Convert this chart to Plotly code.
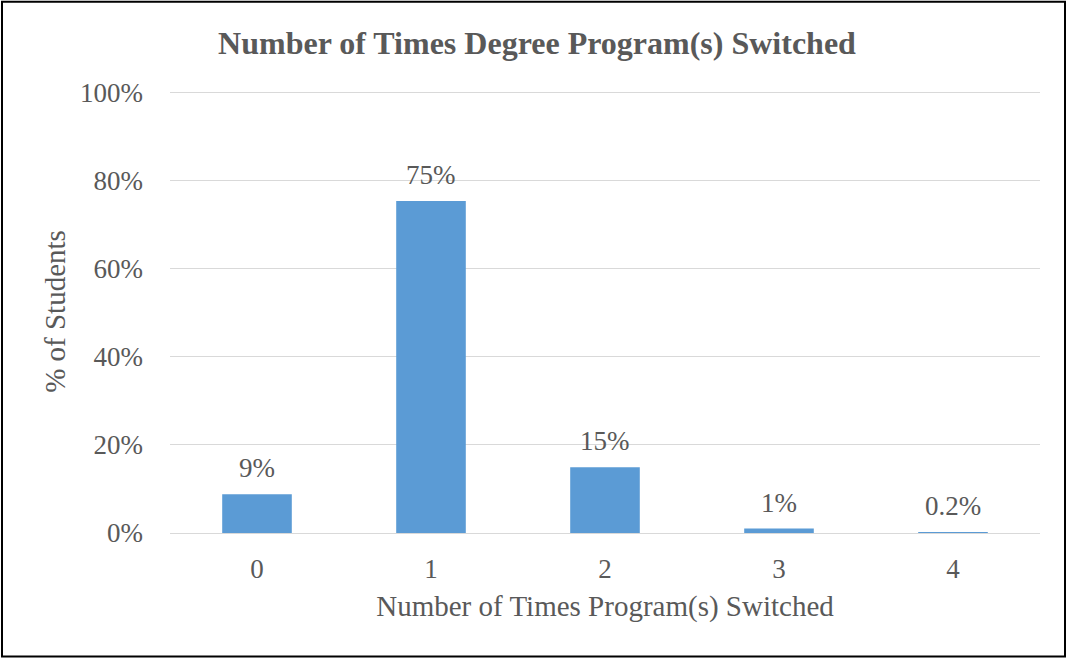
import plotly.graph_objects as go

categories = ["0", "1", "2", "3", "4"]
values = [8.8, 75.3, 14.9, 1.0, 0.2]
labels = ["9%", "75%", "15%", "1%", "0.2%"]
y_ticks = [0, 20, 40, 60, 80, 100]
y_tick_labels = ["0%", "20%", "40%", "60%", "80%", "100%"]

FONT = "Liberation Serif, Times New Roman, serif"
GREY = "#595959"

fig = go.Figure(go.Bar(
    x=categories, y=values,
    marker=dict(color="#5B9BD5", line=dict(width=0)),
    width=0.4, cliponaxis=False,
))
for c, v, t in zip(categories, values, labels):
    fig.add_annotation(x=c, y=v, text=t, showarrow=False, yanchor="bottom", yshift=9,
                       font=dict(family=FONT, size=27, color=GREY))

top_px, bot_px = 92.5, 533.5
ymax = 100.5
plot_h = (bot_px - top_px) * ymax / 100
fig.update_layout(
    width=1070, height=660,
    margin=dict(l=170, r=30, t=bot_px - plot_h, b=660 - bot_px, pad=0),
    paper_bgcolor="white", plot_bgcolor="white",
    showlegend=False,
    title=dict(text="<b>Number of Times Degree Program(s) Switched</b>",
               x=(537 - 170) / 870, xref="paper", xanchor="center",
               y=1 - 43 / 660, yanchor="middle",
               font=dict(family=FONT, size=32, color=GREY)),
    font=dict(family=FONT, color=GREY),
)
fig.update_xaxes(
    type="category", showgrid=False, showline=True, linecolor="#d9d9d9", linewidth=1,
    ticks="", tickfont=dict(family=FONT, size=27, color=GREY), ticklabelstandoff=12,
    title=dict(text="Number of Times Program(s) Switched",
               font=dict(family=FONT, size=29, color=GREY), standoff=12),
)
fig.update_yaxes(
    range=[0, ymax], tickvals=y_ticks, ticktext=y_tick_labels,
    showgrid=True, gridcolor="#d9d9d9", gridwidth=1, zeroline=False,
    ticks="", tickfont=dict(family=FONT, size=27, color=GREY), ticklabelstandoff=26,
    title=dict(text="% of Students", font=dict(family=FONT, size=29, color=GREY), standoff=5),
)
fig.add_shape(type="rect", xref="paper", yref="paper",
              x0=(2 - 170) / 870, x1=(1065 - 170) / 870,
              y0=(bot_px - 657) / plot_h, y1=(bot_px - 2) / plot_h,
              line=dict(color="black", width=2), fillcolor="rgba(0,0,0,0)", layer="above")

fig.write_html("out.html", config={"displayModeBar": False},
               post_script="document.body.style.margin='0px';")
